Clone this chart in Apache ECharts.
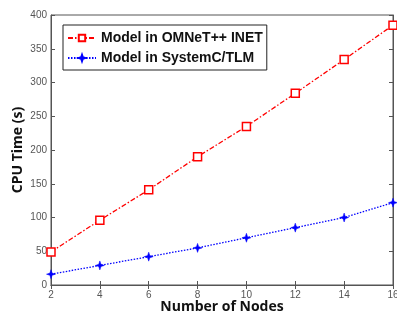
<!DOCTYPE html>
<html><head><meta charset="utf-8">
<script src="https://cdn.jsdelivr.net/npm/echarts@6/dist/echarts.min.js"></script>
<style>html,body{margin:0;padding:0;background:#fff}#c{width:397px;height:314px}</style>
</head><body><div id="c"></div>
<script>
const nodes = [2, 4, 6, 8, 10, 12, 14, 16];
const omnetValues = [49, 96, 141, 190, 235, 284, 334, 385];
const systemcValues = [16, 29, 42, 55, 70, 85, 100, 122];
const seriesNames = ['Model in OMNeT++ INET', 'Model in SystemC/TLM'];

const chart = echarts.init(document.getElementById('c'));
const star = 'path://M0,-10 L2.5,-2.5 L10,0 L2.5,2.5 L0,10 L-2.5,2.5 L-10,0 L-2.5,-2.5 Z';
const tickFont = {color: '#555', fontSize: 10, fontFamily: 'Liberation Sans, Arial'};
chart.setOption({
  animation: false,
  grid: {left: 51, right: 4, top: 15, bottom: 29, containLabel: false, outerBoundsMode: 'none',
         show: true, borderColor: '#555', borderWidth: 1},
  legend: {
    left: 63, top: 25, orient: 'vertical', itemGap: 6, itemWidth: 28, itemHeight: 8,
    padding: [6, 4, 5, 4], borderColor: '#222', borderWidth: 1, backgroundColor: '#fff',
    textStyle: {fontSize: 14, fontWeight: 'bold', fontFamily: 'Liberation Sans, Arial', color: '#111'},
    data: seriesNames
  },
  xAxis: [{
    type: 'value', min: 2, max: 16, interval: 2,
    name: 'Number of Nodes', nameLocation: 'middle', nameGap: 15, nameMoveOverlap: false,
    nameTextStyle: {fontSize: 14, fontWeight: 'bold', fontFamily: 'Open Sans', color: '#111'},
    axisLine: {lineStyle: {color: '#555'}}, axisTick: {inside: true, length: 4, lineStyle: {color: '#555'}},
    axisLabel: Object.assign({margin: 5}, tickFont), splitLine: {show: false}
  }, {
    type: 'value', position: 'top', min: 2, max: 16, interval: 2,
    axisLine: {lineStyle: {color: '#555'}}, axisTick: {inside: true, length: 4, lineStyle: {color: '#555'}},
    axisLabel: {show: false}, splitLine: {show: false}
  }],
  yAxis: [{
    type: 'value', min: 0, max: 400, interval: 50,
    name: 'CPU Time (s)', nameLocation: 'middle', nameGap: 26, nameMoveOverlap: false,
    nameTextStyle: {fontSize: 14, fontWeight: 'bold', fontFamily: 'Open Sans', color: '#111'},
    axisLine: {show: true, lineStyle: {color: '#555'}}, axisTick: {show: true, inside: true, length: 4, lineStyle: {color: '#555'}},
    axisLabel: Object.assign({margin: 4}, tickFont), splitLine: {show: false}
  }, {
    type: 'value', position: 'right', min: 0, max: 400, interval: 50,
    axisLine: {show: true, lineStyle: {color: '#555'}}, axisTick: {show: true, inside: true, length: 4, lineStyle: {color: '#555'}},
    axisLabel: {show: false}, splitLine: {show: false}
  }],
  series: [{
    name: seriesNames[0], type: 'line', data: nodes.map((n, i) => [n, omnetValues[i]]),
    symbol: 'rect', symbolSize: 8, showAllSymbol: true,
    lineStyle: {color: '#ff0000', width: 1.3, type: [5, 2, 1.5, 2]},
    itemStyle: {color: '#fff', borderColor: '#ff0000', borderWidth: 1.5}
  }, {
    name: seriesNames[1], type: 'line', data: nodes.map((n, i) => [n, systemcValues[i]]),
    symbol: star, symbolSize: 9, showAllSymbol: true,
    lineStyle: {color: '#0000ff', width: 1.3, type: [1.5, 1.5]},
    itemStyle: {color: '#0000ff', borderColor: '#0000ff', borderWidth: 0.5}
  }]
});
</script></body></html>
